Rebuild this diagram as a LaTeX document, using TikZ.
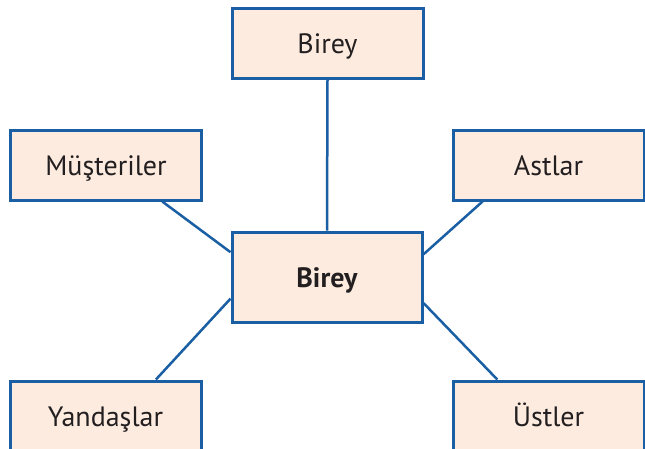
\documentclass[tikz,border=0pt]{standalone}
\usepackage{fontspec}
\setmainfont{PT Sans}
\usetikzlibrary{calc}
\definecolor{boxfill}{HTML}{FDEBDF}
\definecolor{boxline}{HTML}{1A5FA3}
\definecolor{txt}{HTML}{231F20}
\tikzset{
  kutu/.style={draw=boxline, fill=boxfill, line width=3pt, rectangle, inner sep=0pt,
    minimum width=191pt, minimum height=70pt, text=txt, text height=20pt, text depth=0pt,
    font=\fontsize{28}{32}\selectfont},
  bag/.style={draw=boxline, line width=2.5pt}
}
\begin{document}
\begin{tikzpicture}[x=1pt,y=-1pt]
\useasboundingbox (0,0) rectangle (645,448);
\clip (0,0) rectangle (645,448);
\node[kutu] (top) at (327.5,43) {Birey};
\node[kutu] (mu) at (106,165) {Müşteriler};
\node[kutu] (as) at (548.5,165) {Astlar};
\node[kutu, minimum width=190pt, minimum height=90pt, font=\bfseries\fontsize{28}{32}\selectfont] (c) at (327,277) {Birey};
\node[kutu] (ya) at (105.5,416) {Yandaşlar};
\node[kutu] (us) at (548.5,416) {Üstler};
\draw[bag] (top.south) -- (c.north);
\draw[bag] ($(mu.south west)!0.79!(mu.south east)$) -- ($(c.north west)!0.233!(c.south west)$);
\draw[bag] ($(as.south west)!0.16!(as.south east)$) -- ($(c.north east)!0.256!(c.south east)$);
\draw[bag] ($(c.north west)!0.733!(c.south west)$) -- ($(ya.north west)!0.76!(ya.north east)$);
\draw[bag] ($(c.north east)!0.78!(c.south east)$) -- ($(us.north west)!0.236!(us.north east)$);
\end{tikzpicture}
\end{document}
